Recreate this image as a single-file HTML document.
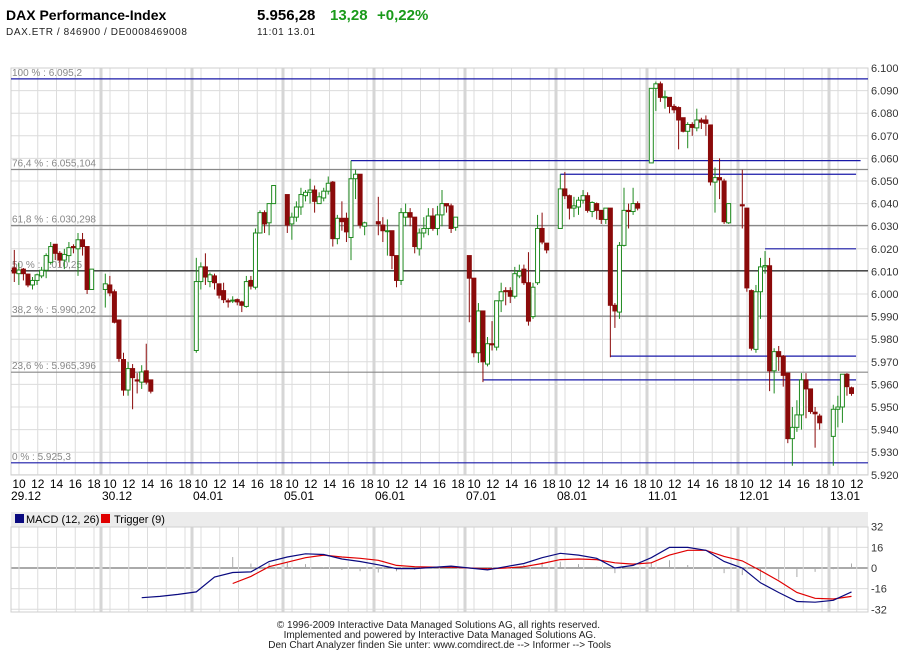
<!DOCTYPE html>
<html><head><meta charset="utf-8"><style>
body{margin:0;background:#fff;}
svg{display:block;font-family:"Liberation Sans",sans-serif;}
</style></head><body>
<svg id="chart" width="900" height="650" viewBox="0 0 900 650">
<rect width="900" height="650" fill="#fff"/>
<text x="6" y="20" font-size="14" font-weight="bold" fill="#000">DAX Performance-Index</text>
<text x="6" y="35" font-size="10" letter-spacing="0.6" fill="#222">DAX.ETR  /  846900  /  DE0008469008</text>
<text x="257" y="20" font-size="15" font-weight="bold" fill="#000">5.956,28</text>
<text x="330" y="20" font-size="15" font-weight="bold" fill="#1a9a1a">13,28</text>
<text x="377" y="20" font-size="15" font-weight="bold" fill="#1a9a1a">+0,22%</text>
<text x="257" y="35" font-size="10" letter-spacing="0.6" fill="#222">11:01   13.01</text>
<g id="grid"></g>
<g id="fib"></g>
<g id="candles"></g>
<g id="axes"></g>
<g id="macd"></g>
<text x="600" y="628" font-size="10" fill="#222" text-anchor="end">© 1996-2009 Interactive Data Managed Solutions AG, all rights reserved.</text>
<text x="596" y="638" font-size="10" fill="#222" text-anchor="end">Implemented and powered by  Interactive Data Managed Solutions AG.</text>
<text x="611" y="648" font-size="10" fill="#222" text-anchor="end">Den Chart Analyzer finden Sie unter: www.comdirect.de --&gt; Informer --&gt; Tools</text>
</svg>
<script>
const slots=[0,1,2,3,4,5,6,7,8,9,10,11,12,13,14,15,16,17,
20,21,22,23,24,25,26,27,28,29,30,
40,41,42,43,44,45,46,47,48,49,50,51,52,53,54,55,56,57,
60,61,62,63,64,65,66,67,68,69,70,71,72,73,74,75,76,77,
80,81,82,83,84,85,86,87,88,89,90,91,92,93,94,95,96,97,
100,101,102,103,104,105,106,107,108,109,110,111,112,113,114,115,116,117,
120,121,122,123,124,125,126,127,128,129,130,131,132,133,134,135,136,137,
140,141,142,143,144,145,146,147,148,149,150,151,152,153,154,155,156,157,
160,161,162,163,164,165,166,167,168,169,170,171,172,173,174,175,176,177,
180,181,182,183,184];
const opens=[6011.5,6009,6011,6008.8,6004,6006,6008,6010.5,6014,6022,6018,6015,6017,6021,6020,6024,6021,6002,
6002,6004,6001,5988.5,5971,5957.5,5967,5962,5961,5966,5962,
5975,6005.5,6012,6005.5,6008,6004.5,6001.5,5997,5997,5997.5,5996.5,5994.5,6006,6003,6027,6036,6031.5,6040,
6044,6031,6034,6038.5,6043.5,6045,6046,6040,6042.5,6045.5,6049.5,6024.5,6033.5,6033.5,6025,6051,6053,6030,
6032,6030.5,6028,6028,6017,6006,6034,6036,6034,6020,6027,6029,6034.5,6029,6035,6040,6039,6029.5,
6017,6007,5974,5992.5,5969,5978,5976.5,5997,6001.5,6001.5,5999,6008,6011,6005,5990,6005,6029,6022.5,
6029,6046.5,6043.5,6038,6038.5,6041.5,6043.5,6036.5,6040,6037,6033,6038,5995,5992,6021.5,6037,6036.5,6040,
6058,6091,6093,6087,6087,6083,6082.5,6078,6072,6075,6073.5,6077,6077,6074.8,6049.5,6051.5,6050,6031.5,
6039.5,6038,6001.5,5975.5,6001,6012,6012.5,5966,5974.5,5972.5,5965,5936,5941,5946.5,5962,5958,5947.7,5946,
5937,5949,5950,5964.5,5958.5];
const highs=[6019.5,6013.7,6011.5,6009,6007.5,6009,6012,6018,6023,6022,6019,6020,6023,6022,6027,6027,6021,6011,
6009,6008,6002,5988.5,5974,5970,5969,5965,5968.5,5978,5962,
6016,6014,6018,6009.5,6009,6004.5,6005,5998,5999,5998,5997,6008,6008,6029,6037,6037,6040,6048,
6044,6036,6041,6047,6046,6051,6048,6045,6047,6052,6050,6035,6041,6036,6059,6055,6053,6032,
6043,6034,6033,6028,6017,6038,6040,6038,6034,6029,6034,6038,6038,6039,6046,6040,6040,6034,
6017,6007,5996,5992.5,5981,5988,5997,6005,6003,6003,6012,6013,6013,6018.5,6005,6035,6036,6022.5,
6053,6054,6044,6043,6043,6046,6045,6041,6040.5,6037,6038,6038,5996,6023,6047,6040,6047,6041,
6091,6094,6094,6090,6087,6084,6083,6078,6076,6076,6082,6078,6079,6075,6056,6060,6051,6040,
6055,6038,6002,6004,6016,6019,6016,5976,5977,5973,5965,5950,5953,5965,5965,5958,5950,5947,
5951,5955,5964.5,5965,5959];
const lows=[6005.3,6004,6006,6003,6002,6004,6007,6007,6013,6015,6012,6011,6014,6018,6008,6017,6000,6002,
5994,5999,5987,5970,5955,5955,5949,5956,5958,5960,5956,
5974,6002,6004,6003,6002,5998,5996,5994,5996,5995,5992,5994,6002,6002,6027,6027,6026,6040,
6027,6024,6032,6035,6041,6040,6036,6040,6041,6044,6021,6022,6028,6023,6015,6042,6029,6026,
6026,6023,6017,6011,6003,6004,6030,6030,6018,6017,6025,6026,6028,6026,6030,6036,6027,6028,
5987.5,5972,5969.5,5961,5968,5975,5975,5992,5995,5996,5998,6007,6004,5986,5989,6004,6022,6018,
6029,6042,6033,6034,6035,6040,6036,6034,6033,6031,6031,5972,5985,5989,6021,6029,6035,6037,
6058,6081,6085,6082,6080,6080,6064,6071.5,6064.5,6070,6072,6073,6070,6048,6036,6042,6031,6031,
6029,6001,5975,5974,5989,6009,5957,5956,5966,5959,5934,5924,5939,5940,5945,5947,5932,5940,
5924,5941,5943,5955,5955];
const closes=[6009.3,6010.6,6009,6004,6006,6008.5,6010.5,6017,6021,6018,6015,6017.5,6020.5,6020.5,6024,6021,6002,6011,
6004.5,6000.5,5987.5,5971.5,5957.5,5967,5963,5961.5,5965.5,5961,5957,
6005.5,6012,6007.5,6008.5,6005,5999.5,5997.5,5996.5,5997.3,5996.5,5995,6005.5,6003.5,6027,6036,6031,6040,6048,
6030.5,6034,6038.5,6044,6045,6046,6041,6043,6045.5,6049,6024.5,6033.5,6032,6027.5,6051,6053,6030.5,6031.5,
6031,6028,6028,6017,6006,6036,6036,6034,6021,6027,6029,6034.5,6029,6035,6040,6039,6029,6034,
6007,5974,5992.5,5970,5978,5977.5,5997,6001,6001,5999,6009,6010,6005,5988,6003,6029,6023,6019.5,
6046.5,6043.5,6038,6039,6041.5,6043.5,6037,6040.5,6037,6033,6038,5995,5992.5,6021.5,6037,6036.5,6040,6038,
6091,6093,6087,6087.3,6083,6081.5,6077,6072,6075,6073.7,6077,6076,6075.5,6049.6,6051.5,6050.5,6032,6040,
6039,6002.7,5976,6001,6012,6012.6,5966,5974.5,5972.3,5964,5936,5941,5946.5,5962,5958,5948,5947,5943,
5949,5950,5964.5,5959,5956];
const yTicks=[6100,6090,6080,6070,6060,6050,6040,6030,6020,6010,6000,5990,5980,5970,5960,5950,5940,5930,5920];
const dayLabels=["29.12","30.12","04.01","05.01","06.01","07.01","08.01","11.01","12.01","13.01"];
const hourLabels=["10","12","14","16","18"];
const fibLevels=[6095.2,6055.104,6030.298,6010.25,5990.202,5965.396,5925.3];
const fibNames=["100 % : 6.095,2","76,4 % : 6.055,104","61,8 % : 6.030,298","50 % : 6.010,25","38,2 % : 5.990,202","23,6 % : 5.965,396","0 % : 5.925,3"];
const trendLevels=[6059,6053,6020,5972.5,5962];
const trendStartSlots=[74,120,165,131,103];
const trendEndSlots=[186,185,185,185,185];
const macdSlots=[28,32,36,40,44,48,52,56,60,64,68,72,76,80,84,88,92,96,100,104,108,112,116,120,124,128,132,136,140,144,148,152,156,160,164,168,172,176,180,184];
const macdVals=[-23,-22,-20.5,-18.5,-7,-3.5,-3,5,8.5,11,10.5,7,5,2.5,-0.5,-0.5,0.5,1.5,0,-1.5,1,3.5,8,11.4,10,7.5,0,2,8,16,16,13.7,5,0,-11.5,-19,-26,-26.5,-25,-18.5];
const triggerVals=[null,null,null,null,null,-12,-6.5,1,4.5,8,10,8.5,7.5,6,2,1,0.7,0.7,0,-0.7,0,1,3.5,6.5,7,6.5,4,3,4,10,13.7,13.7,9,5.5,-2,-10,-19,-23.5,-24,-22];
const macdTicks=[32,16,0,-16,-32];

const NS="http://www.w3.org/2000/svg";
const L=11,R=868,T=68,B=475;
const xS=s=>14.3+s*4.55;
const yP=v=>68+(6100-v)*2.26;
const MZ=568,mT=527,mB=612;
const yM=v=>MZ-v*1.29;
function mk(p,tag,a){const e=document.createElementNS(NS,tag);for(const k in a)e.setAttribute(k,a[k]);p.appendChild(e);return e;}
const grid=document.getElementById('grid'),fib=document.getElementById('fib'),cg=document.getElementById('candles'),ax=document.getElementById('axes'),mg=document.getElementById('macd');

yTicks.forEach(v=>{
  const ln=mk(grid,'line',{x1:L,x2:R,y1:yP(v),y2:yP(v),stroke:'#dcdcdc','stroke-width':1});
  
  
  const t=mk(ax,'text',{x:871,y:yP(v)+4,'font-size':11,fill:'#333'});
  t.textContent=(v/1000).toFixed(3);
  
  
});
macdTicks.forEach(v=>{
  const ln=mk(grid,'line',{x1:L,x2:R,y1:yM(v),y2:yM(v),stroke:v===0?'#555':'#dcdcdc','stroke-width':1});
  
  
  const t=mk(ax,'text',{x:871,y:yM(v)+4,'font-size':11,fill:'#333'});
  t.textContent=String(v);
  
  
});
dayLabels.forEach((d,k)=>{
  const s=10+91*k;
  if(k>0){
    [[T,B],[mT,mB]].forEach(([a,b])=>{
      const sp=mk(grid,'rect',{x:s-1.5,y:a,width:3,height:b-a,fill:'#d6d6d6'});
      
      
    });
  }
  hourLabels.forEach((h,j)=>{
    const x=s+9+18.75*j;
    if(x>R)return;
    [[T,B],[mT,mB]].forEach(([a,b])=>{
      const ln=mk(grid,'line',{x1:x,x2:x,y1:a,y2:b,stroke:'#dcdcdc','stroke-width':1});
      
      
    });
    const t=mk(ax,'text',{x:x,y:488,'font-size':12,fill:'#000','text-anchor':'middle'});
    t.textContent=h;
    
    
  });
  const dt=mk(ax,'text',{x:k===0?11:s+1,y:500,'font-size':12,fill:'#000'});
  dt.textContent=d;
  
  
});
[[T,B],[mT,mB]].forEach(([a,b])=>{
  const fr=mk(grid,'rect',{x:L,y:a,width:R-L,height:b-a,fill:'none',stroke:'#cfcfcf'});
  
  
});
fibLevels.forEach((v,i)=>{
  const isEdge=(i===0||i===fibLevels.length-1);
  const col=isEdge?'#1a1aa8':(i===3?'#111':'#888');
  const ln=mk(fib,'line',{x1:L,x2:R,y1:yP(v),y2:yP(v),stroke:col,'stroke-width':1.2});
  
  
  const t=mk(fib,'text',{x:12,y:yP(v)-3,'font-size':10,fill:'#888'});
  t.textContent=fibNames[i];
  
  
});
trendLevels.forEach((v,i)=>{
  const ln=mk(fib,'line',{x1:xS(trendStartSlots[i]),x2:xS(trendEndSlots[i]),y1:yP(v),y2:yP(v),stroke:'#1a1aa8','stroke-width':1.2});
  
  
});
slots.forEach((s,i)=>{
  const x=xS(s),o=opens[i],c=closes[i],up=c>=o;
  const col=up?'#1f8a1f':'#8b0a0a';
  const w=mk(cg,'line',{x1:x,x2:x,y1:yP(highs[i]),y2:yP(lows[i]),stroke:col,'stroke-width':1});
  
  
  const top=yP(Math.max(o,c)),h=Math.max(1,yP(Math.min(o,c))-top);
  const b=mk(cg,'rect',{x:x-2,y:top,width:4,height:h,fill:up?'#fff':col,stroke:col,'stroke-width':1});
  
  
});
const hb=mk(mg,'rect',{x:L,y:512,width:R-L,height:14,fill:'#ececec'});


const k1=mk(mg,'rect',{x:15,y:514,width:9,height:9,fill:'#0a0a80'});


const t1=mk(mg,'text',{x:26,y:523,'font-size':11,fill:'#000'});t1.textContent='MACD (12, 26)';


const k2=mk(mg,'rect',{x:101,y:514,width:9,height:9,fill:'#e00000'});


const t2=mk(mg,'text',{x:114,y:523,'font-size':11,fill:'#000'});t2.textContent='Trigger (9)';


macdSlots.forEach((s,i)=>{
  if(triggerVals[i]===null)return;
  const d=macdVals[i]-triggerVals[i];
  const bar=mk(mg,'line',{x1:xS(s),x2:xS(s),y1:MZ,y2:yM(d),stroke:'#aaa','stroke-width':1});
  
  
});
function pathFor(vals){let d='',st=false;macdSlots.forEach((s,i)=>{if(vals[i]===null)return;d+=(st?'L':'M')+xS(s).toFixed(1)+','+yM(vals[i]).toFixed(1);st=true;});return d;}
const tp=mk(mg,'path',{d:pathFor(triggerVals),fill:'none',stroke:'#e00000','stroke-width':1.2});


const mp=mk(mg,'path',{d:pathFor(macdVals),fill:'none',stroke:'#0a0a80','stroke-width':1.2});


</script>
</body></html>
